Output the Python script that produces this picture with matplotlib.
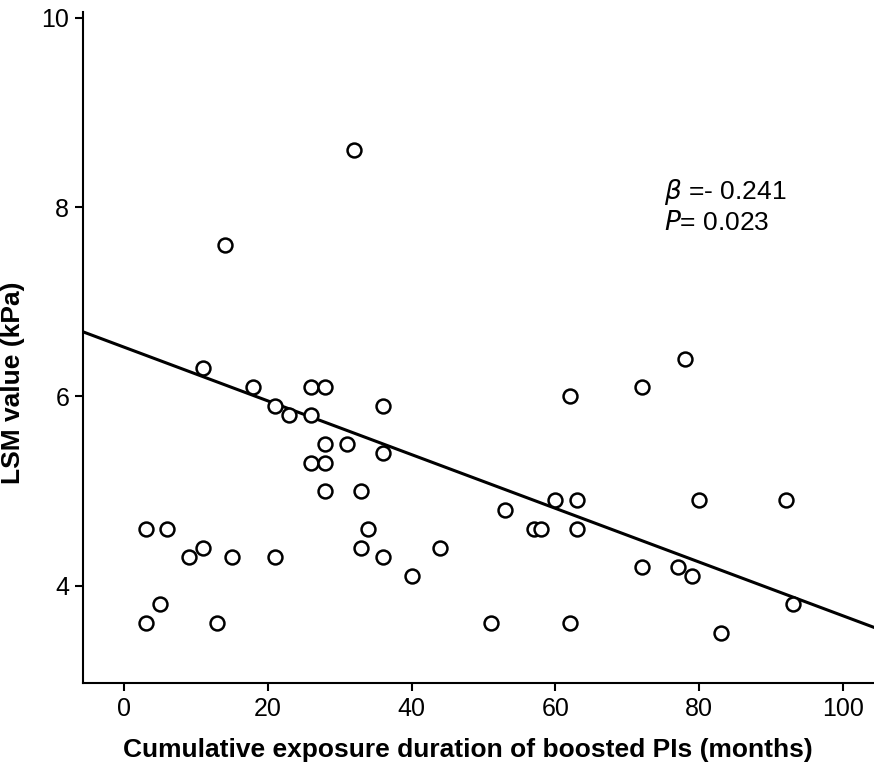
import matplotlib
matplotlib.use("Agg")
import matplotlib.pyplot as plt
import numpy as np

plt.rcParams['font.family'] = ['Liberation Sans', 'DejaVu Sans']

# cumulative exposure (months) and LSM value (kPa)
months = [3, 3, 5, 6, 9, 11, 11, 13, 14, 15,
          18, 21, 21, 23, 26, 26, 26, 28, 28, 28,
          28, 31, 32, 33, 33, 34, 36, 36, 36, 40,
          44, 51, 53, 57, 58, 60, 62, 62, 63, 63,
          72, 72, 77, 78, 79, 80, 83, 92, 93]
lsm = [4.6, 3.6, 3.8, 4.6, 4.3, 4.4, 6.3, 3.6, 7.6, 4.3,
       6.1, 5.9, 4.3, 5.8, 6.1, 5.8, 5.3, 6.1, 5.5, 5.3,
       5.0, 5.5, 8.6, 5.0, 4.4, 4.6, 5.9, 5.4, 4.3, 4.1,
       4.4, 3.6, 4.8, 4.6, 4.6, 4.9, 6.0, 3.6, 4.9, 4.6,
       6.1, 4.2, 4.2, 6.4, 4.1, 4.9, 3.5, 4.9, 3.8]

# fitted line as drawn in the figure
fit_intercept = 6.52
fit_slope = -0.0284

x_ticks = [0, 20, 40, 60, 80, 100]
y_ticks = [4, 6, 8, 10]
x_range = (-5.7, 104.3)
y_range = (2.97, 10.06)

fig = plt.figure(figsize=(8.74, 7.64), dpi=100)
ax = fig.add_axes([0.095, 0.106, 0.905, 0.878])

ax.scatter(months, lsm, s=100, facecolors='white', edgecolors='black',
           linewidths=1.8, zorder=3)

xx = np.array(x_range)
ax.plot(xx, fit_intercept + fit_slope * xx, color='black', lw=2.2, zorder=2)

ax.set_xlim(*x_range)
ax.set_ylim(*y_range)
ax.set_xticks(x_ticks)
ax.set_yticks(y_ticks)

for s in ['top', 'right']:
    ax.spines[s].set_visible(False)
for s in ['left', 'bottom']:
    ax.spines[s].set_linewidth(1.5)
ax.tick_params(direction='out', length=6, width=1.5, labelsize=18, pad=4)

ax.set_xlabel('Cumulative exposure duration of boosted PIs (months)',
              fontsize=19, fontweight='bold')
ax.xaxis.set_label_coords(0.487, -0.082)
ax.set_ylabel('LSM value (kPa)', fontsize=19, fontweight='bold')
ax.yaxis.set_label_coords(-0.073, 0.447)

ax.text(0.735, 0.732, r'$\beta$ =- 0.241', transform=ax.transAxes,
        fontsize=19, ha='left', va='center')
ax.text(0.735, 0.686, r'$P$= 0.023', transform=ax.transAxes,
        fontsize=19, ha='left', va='center')

fig.savefig('out.png', dpi=100)
